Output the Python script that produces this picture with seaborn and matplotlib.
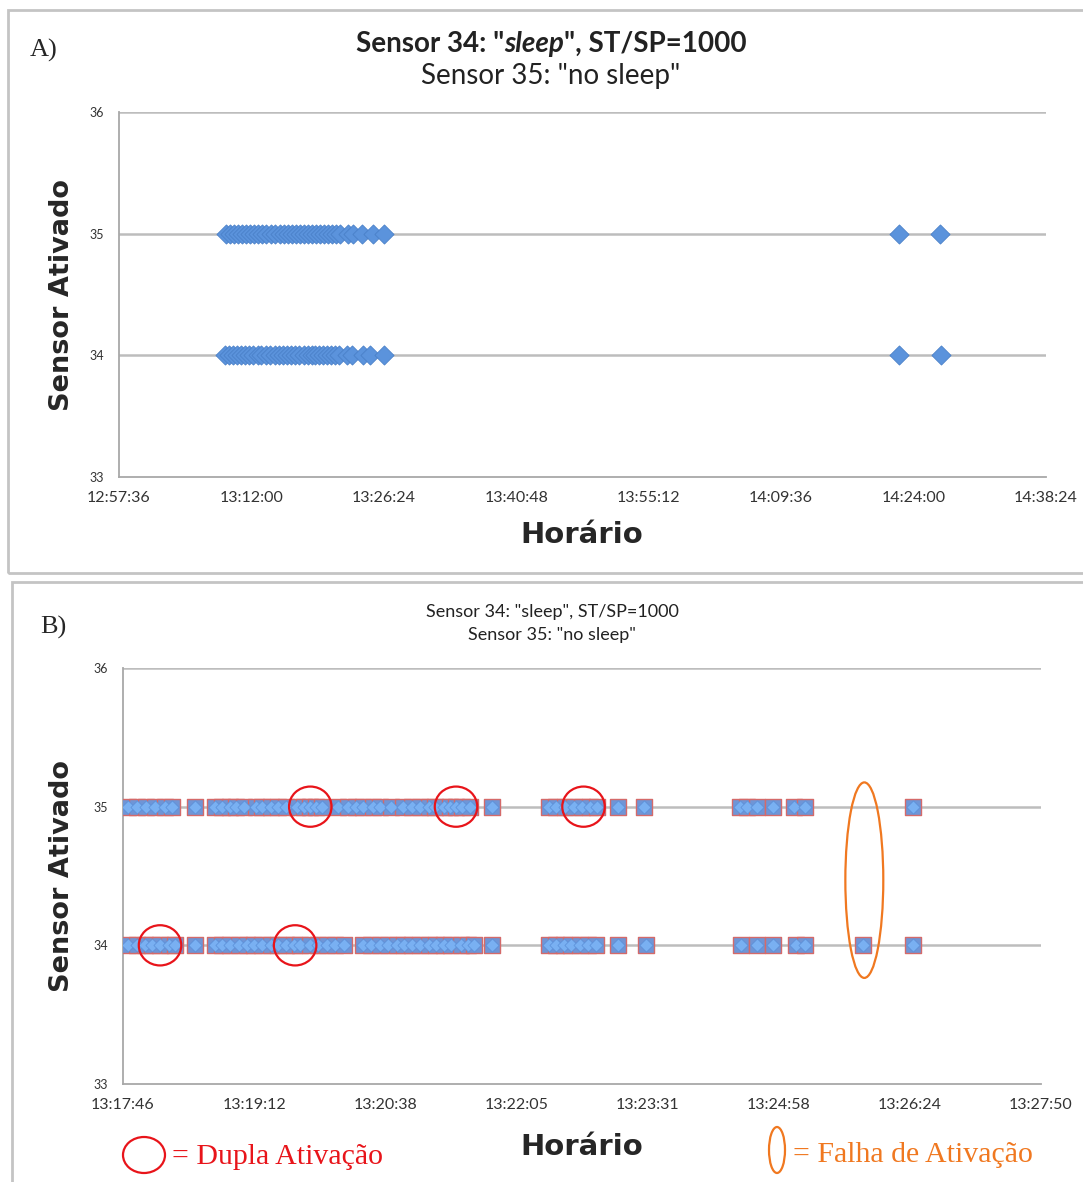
import numpy as np
import pandas as pd
import matplotlib
matplotlib.use("Agg")
import matplotlib.pyplot as plt
import seaborn as sns
from matplotlib.patches import Ellipse, Rectangle
from matplotlib.ticker import FuncFormatter

# ============================================
# DATA
# ============================================

# Panel A - activation times, sensor 35 and sensor 34
a_times_35 = [
    "13:09:14", "13:09:38", "13:10:06", "13:10:30", "13:10:58", "13:11:24",
    "13:11:49", "13:12:17", "13:12:41", "13:13:09", "13:13:35", "13:14:07",
    "13:14:34", "13:15:06", "13:15:30", "13:15:58", "13:16:24", "13:16:51",
    "13:17:15", "13:17:43", "13:18:09", "13:18:35", "13:19:01", "13:19:27",
    "13:19:53", "13:20:19", "13:20:45", "13:21:11", "13:21:38", "13:22:30",
    "13:23:02", "13:24:01", "13:25:13", "13:26:25", "14:22:24", "14:26:51",
]
a_times_34 = [
    "13:09:10", "13:09:36", "13:10:02", "13:10:28", "13:10:55", "13:11:20",
    "13:11:47", "13:12:13", "13:12:40", "13:13:05", "13:13:32", "13:14:04",
    "13:14:31", "13:15:02", "13:15:28", "13:15:55", "13:16:21", "13:16:47",
    "13:17:13", "13:17:40", "13:18:06", "13:18:32", "13:18:58", "13:19:24",
    "13:19:50", "13:20:16", "13:20:42", "13:21:08", "13:21:34", "13:22:26",
    "13:22:58", "13:24:10", "13:24:52", "13:26:22", "14:22:24", "14:26:58",
]

# Panel B - activation times, sensor 35 and sensor 34
b_times_35 = [
    "13:17:49", "13:17:55", "13:18:01", "13:18:07", "13:18:13", "13:18:18",
    "13:18:33", "13:18:46", "13:18:51", "13:18:56", "13:19:00", "13:19:05",
    "13:19:13", "13:19:17", "13:19:23", "13:19:28", "13:19:33", "13:19:40",
    "13:19:45", "13:19:49", "13:19:53", "13:19:57", "13:20:07", "13:20:14",
    "13:20:19", "13:20:24", "13:20:30", "13:20:35", "13:20:42", "13:20:50",
    "13:20:56", "13:21:01", "13:21:07", "13:21:11", "13:21:17", "13:21:21",
    "13:21:25", "13:21:29", "13:21:34", "13:21:49", "13:22:26", "13:22:31",
    "13:22:37", "13:22:43", "13:22:48", "13:22:53", "13:22:58", "13:23:12",
    "13:23:29", "13:24:32", "13:24:37", "13:24:43", "13:24:54", "13:25:08",
    "13:25:15", "13:26:26",
]
b_times_34 = [
    "13:17:49", "13:17:55", "13:18:00", "13:18:05", "13:18:10", "13:18:16",
    "13:18:20", "13:18:33", "13:18:46", "13:18:51", "13:18:56", "13:19:02",
    "13:19:07", "13:19:12", "13:19:17", "13:19:23", "13:19:28", "13:19:33",
    "13:19:38", "13:19:42", "13:19:49", "13:19:54", "13:20:00", "13:20:05",
    "13:20:11", "13:20:24", "13:20:29", "13:20:35", "13:20:40", "13:20:46",
    "13:20:51", "13:20:56", "13:21:01", "13:21:07", "13:21:12", "13:21:17",
    "13:21:22", "13:21:28", "13:21:33", "13:21:37", "13:21:49", "13:22:26",
    "13:22:31", "13:22:36", "13:22:41", "13:22:47", "13:22:52", "13:22:57",
    "13:23:12", "13:23:30", "13:24:33", "13:24:43", "13:24:54", "13:25:09",
    "13:25:15", "13:25:53", "13:26:26",
]

# annotations in panel B
dupla_times = ["13:19:49", "13:21:25", "13:22:49", "13:18:10", "13:19:39"]
dupla_sensor = [35, 35, 35, 34, 34]
falha_time = "13:25:54"
falha_center = 34.47

# axis ranges (Excel style, fraction of a day)
a_range = (0.54, 0.61)
b_range = (0.554, 0.561)
y_ticks = [33, 34, 35, 36]

# ============================================
# HELPERS
# ============================================

W, H = 1083, 1182


def to_sec(hms):
    h, m, s = hms.split(":")
    return int(h) * 3600 + int(m) * 60 + int(s)


def fmt_time(v, pos=None):
    v = int(round(v))
    return f"{v // 3600}:{(v % 3600) // 60:02d}:{v % 60:02d}"


def make_df(t35, t34):
    return pd.DataFrame({
        "t": [to_sec(t) for t in t35] + [to_sec(t) for t in t34],
        "sensor": [35] * len(t35) + [34] * len(t34),
    })


def style_axis(ax, day_range):
    x0, x1 = day_range[0] * 86400, day_range[1] * 86400
    ax.set_xlim(x0, x1)
    ax.set_ylim(33, 36)
    ax.set_xticks(np.linspace(x0, x1, 8))
    ax.set_yticks(y_ticks)
    ax.xaxis.set_major_formatter(FuncFormatter(fmt_time))
    for y in y_ticks[1:]:
        ax.axhline(y, color="#bdbdbd", lw=1.8, zorder=0)
    for s in ["top", "right"]:
        ax.spines[s].set_visible(False)
    for s in ["left", "bottom"]:
        ax.spines[s].set_color("#a8a8a8")
        ax.spines[s].set_linewidth(1.3)
    ax.tick_params(axis="both", direction="out", length=4, width=1,
                   color="#a8a8a8", labelcolor="#333333")
    ax.tick_params(axis="x", labelsize=11.5, pad=6)
    ax.tick_params(axis="y", labelsize=9, pad=7)
    ax.set_xlabel("")
    ax.set_ylabel("")
    ax.set_facecolor("white")


def mixed_title(fig, y_px, parts, size, center_px):
    r = fig.canvas.get_renderer()
    texts = []
    for s, style, weight in parts:
        t = fig.text(0, 1 - y_px / H, s, fontsize=size, fontstyle=style,
                     fontweight=weight, va="center", ha="left", color="#222222")
        texts.append(t)
    widths = [t.get_window_extent(r).width for t in texts]
    x = center_px - sum(widths) / 2
    for t, w in zip(texts, widths):
        t.set_x(x / W)
        x += w


# ============================================
# FIGURE
# ============================================

sns.set_style("white")
plt.rcParams["font.family"] = ["Lato", "DejaVu Sans"]

fig = plt.figure(figsize=(W / 100, H / 100), dpi=100)

# panel frames
fig.add_artist(Rectangle((8 / W, 1 - 573 / H), 1.0, (573 - 10) / H,
                         transform=fig.transFigure, fill=False,
                         ec="#c4c4c4", lw=2))
fig.add_artist(Rectangle((12 / W, -0.01), 1.0, 1 - 582 / H + 0.01,
                         transform=fig.transFigure, fill=False,
                         ec="#c4c4c4", lw=2))

# --------------------------------------------
# PANEL A
# --------------------------------------------

axA = fig.add_axes([119 / W, 1 - 477 / H, 927 / W, 365 / H])
dfA = make_df(a_times_35, a_times_34)
sns.scatterplot(data=dfA, x="t", y="sensor", ax=axA, marker="D", s=95,
                color="#5b93dc", edgecolor="#4a80c8", linewidth=0.6,
                zorder=3, legend=False)
style_axis(axA, a_range)

# --------------------------------------------
# PANEL B
# --------------------------------------------

axB = fig.add_axes([123 / W, 1 - 1084 / H, 918 / W, 416 / H])
dfB = make_df(b_times_35, b_times_34)
sns.scatterplot(data=dfB, x="t", y="sensor", ax=axB, marker="s", s=125,
                color="#6f95d6", edgecolor="#d46a6a", linewidth=1.0,
                zorder=3, legend=False)
sns.scatterplot(data=dfB, x="t", y="sensor", ax=axB, marker="D", s=45,
                color="#79b0f2", edgecolor="#5a8fd8", linewidth=0.5,
                zorder=4, legend=False)
style_axis(axB, b_range)

for t, y in zip(dupla_times, dupla_sensor):
    axB.add_patch(Ellipse((to_sec(t), y), width=28, height=0.29,
                          fill=False, ec="#e8141a", lw=1.6, zorder=5))
axB.add_patch(Ellipse((to_sec(falha_time), falha_center), width=25,
                      height=1.41, fill=False, ec="#f07820", lw=1.6,
                      zorder=5))

# ============================================
# TEXTS
# ============================================

fig.text(30 / W, 1 - 50 / H, "A)", fontsize=19, family="Liberation Serif",
         va="center", ha="left")
fig.text(40 / W, 1 - 627 / H, "B)", fontsize=19, family="Liberation Serif",
         va="center", ha="left")

mixed_title(fig, 44, [('Sensor 34: "', "normal", "bold"),
                      ("sleep", "italic", "bold"),
                      ('", ST/SP=1000', "normal", "bold")], 20, 551)
fig.text(551 / W, 1 - 76 / H, 'Sensor 35: "no sleep"', fontsize=20,
         ha="center", va="center", color="#222222")

fig.text(552 / W, 1 - 612 / H, 'Sensor 34: "sleep", ST/SP=1000',
         fontsize=13, ha="center", va="center", color="#222222")
fig.text(552 / W, 1 - 635 / H, 'Sensor 35: "no sleep"',
         fontsize=13, ha="center", va="center", color="#222222")

for y_px in [295, 876]:
    fig.text(62 / W, 1 - y_px / H, "Sensor Ativado", fontsize=19.5,
             family="DejaVu Sans", fontweight="bold", rotation=90,
             ha="center", va="center")
for y_px in [535, 1147]:
    fig.text(582 / W, 1 - y_px / H, "Horário", fontsize=21,
             family="DejaVu Sans", fontweight="bold",
             ha="center", va="center")

# legend of the annotations
fig.add_artist(Ellipse((144 / W, 1 - 1155 / H), 42 / W, 36 / H,
                       transform=fig.transFigure, fill=False,
                       ec="#e8141a", lw=1.6))
fig.text(172 / W, 1 - 1157 / H, "= Dupla Ativação", fontsize=21.5,
         family="Liberation Serif", color="#e8141a", ha="left", va="center")
fig.add_artist(Ellipse((777 / W, 1 - 1150 / H), 16 / W, 46 / H,
                       transform=fig.transFigure, fill=False,
                       ec="#f07820", lw=1.6))
fig.text(793 / W, 1 - 1155 / H, "= Falha de Ativação", fontsize=21.5,
         family="Liberation Serif", color="#f07820", ha="left", va="center")

fig.savefig("out.png", dpi=100, facecolor="white")
